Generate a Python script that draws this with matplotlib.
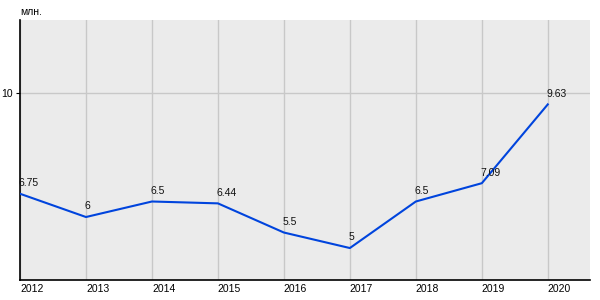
import matplotlib
matplotlib.use("Agg")
import matplotlib.pyplot as plt

years = [2012, 2013, 2014, 2015, 2016, 2017, 2018, 2019, 2020]
values = [6.75, 6, 6.5, 6.44, 5.5, 5, 6.5, 7.09, 9.63]
labels = ["6.75", "6", "6.5", "6.44", "5.5", "5", "6.5", "7.09", "9.63"]

plt.rcParams['font.family'] = ['Liberation Sans', 'DejaVu Sans']

fig = plt.figure(figsize=(6, 3), dpi=100)
ax = fig.add_axes([20 / 600, 20 / 300, 570 / 600, 260 / 300])
ax.set_facecolor('#ebebeb')

ax.plot(years, values, color='#0044dd', linewidth=1.5, zorder=3)
for x, y, t in zip(years, values, labels):
    ax.annotate(t, (x, y), xytext=(-1, 4), textcoords='offset points',
                fontsize=7.5, ha='left', va='bottom', color='#111111')

ax.set_xlim(2012, 2020.64)
ax.set_ylim(3.97, 12.35)
ax.set_xticks(years)
ax.set_xticklabels([str(y) for y in years], ha='left', fontsize=7.5)
ax.set_yticks([10])
ax.set_yticklabels(['10'], fontsize=7.5)
ax.tick_params(axis='x', length=0, pad=3)
ax.tick_params(axis='y', length=3, pad=2)
ax.grid(True, color='#c8c8c8', linewidth=1)
ax.set_axisbelow(True)
for s in ['top', 'right']:
    ax.spines[s].set_visible(False)
for s in ['left', 'bottom']:
    ax.spines[s].set_color('black')
    ax.spines[s].set_linewidth(1.2)

fig.text(20 / 600, 1 - 12 / 300, 'млн.', fontsize=7.5, ha='left', va='center')

fig.savefig('out.png', dpi=100)
